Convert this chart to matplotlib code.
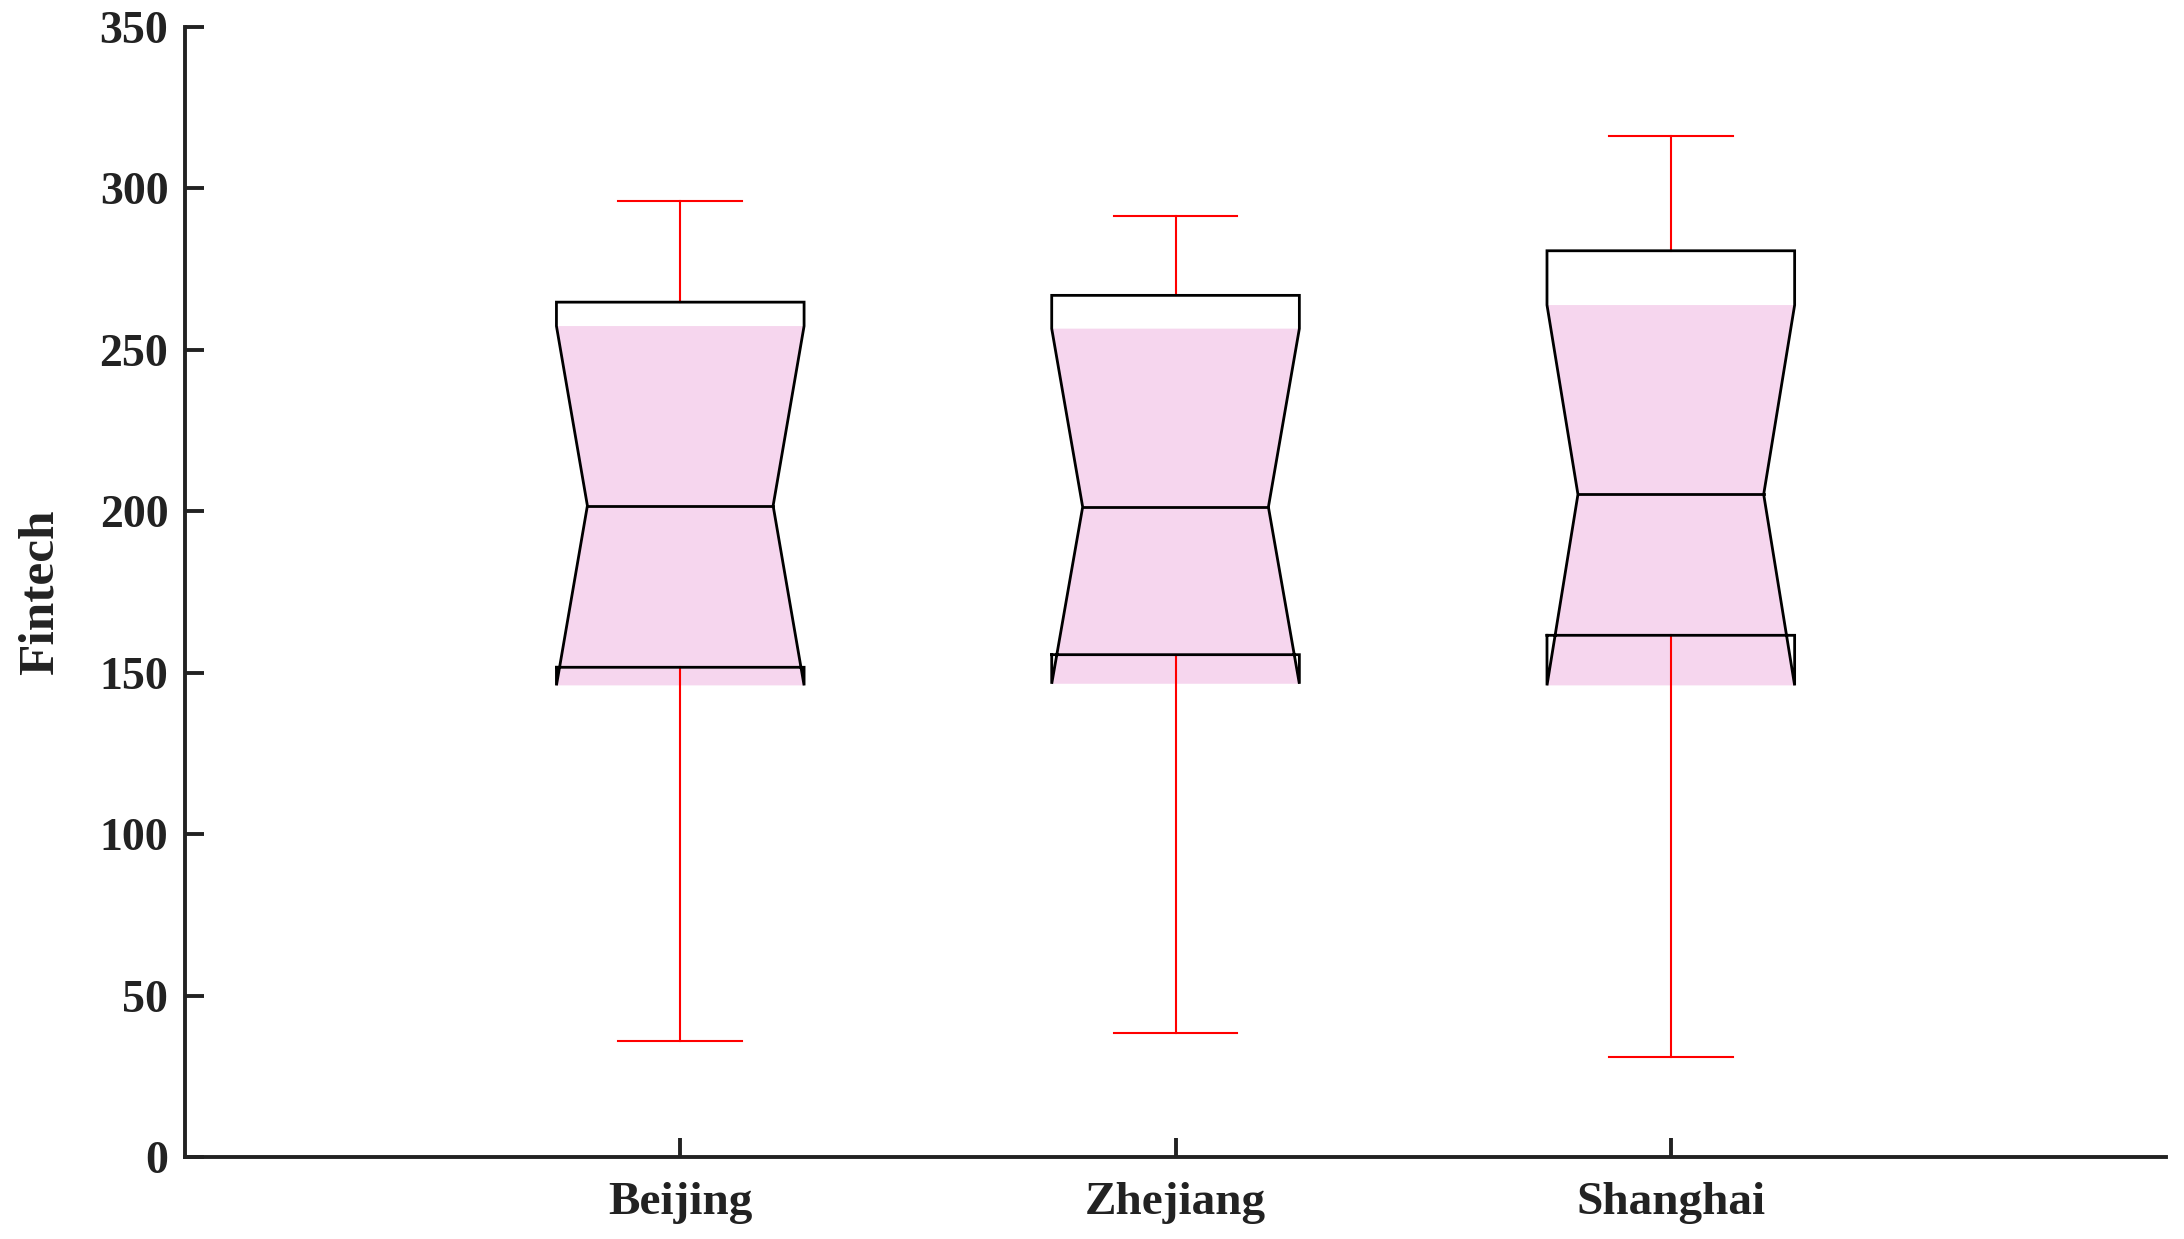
import numpy as np
import matplotlib.pyplot as plt

# values
regions = ['Beijing', 'Zhejiang', 'Shanghai']
whisker_low = [36.2, 38.4, 31.0]
q1 = [151.7, 155.6, 161.6]
median = [201.7, 201.3, 205.2]
q3 = [264.7, 266.8, 280.6]
whisker_high = [296.1, 291.4, 316.0]
notch_low = [146.1, 146.6, 146.1]
notch_high = [257.3, 256.5, 263.8]

box_width = 0.5
waist = 0.75  # notch width at median, relative to box width
cap_width = 0.25
fill_color = '#F6D6EE'
text_color = '#222222'

plt.rcParams['font.family'] = ['Liberation Serif', 'DejaVu Serif']
plt.rcParams['font.weight'] = 'bold'

fig = plt.figure(figsize=(21.84, 12.39), dpi=100)
ax = fig.add_axes([0.0847, 0.0658, 0.9071, 0.9128])

for i in range(len(regions)):
    x = i + 1
    l, r = x - box_width / 2, x + box_width / 2
    nl, nr = x - box_width * waist / 2, x + box_width * waist / 2

    # pink notch fill
    ax.fill([l, r, nr, r, l, nl], [notch_low[i], notch_low[i], median[i],
            notch_high[i], notch_high[i], median[i]],
            color=fill_color, lw=0, zorder=1)

    # whiskers and caps
    ax.plot([x, x], [q3[i], whisker_high[i]], color='red', lw=1.5, zorder=2)
    ax.plot([x, x], [whisker_low[i], q1[i]], color='red', lw=1.5, zorder=2)
    for w in (whisker_low[i], whisker_high[i]):
        ax.plot([x - cap_width / 2, x + cap_width / 2], [w, w],
                color='red', lw=1.5, zorder=2)

    # box outline with notch
    bx = [l, r, r, nr, r, r, l, l, nl, l, l]
    by = [q1[i], q1[i], notch_low[i], median[i], notch_high[i], q3[i],
          q3[i], notch_high[i], median[i], notch_low[i], q1[i]]
    ax.plot(bx, by, color='black', lw=2.0, zorder=3, solid_joinstyle='miter')
    ax.plot([nl, nr], [median[i], median[i]], color='black', lw=2.0, zorder=3)

ax.set_xlim(0, 4)
ax.set_ylim(0, 350)
ax.set_xticks([1, 2, 3])
ax.set_xticklabels(regions, fontsize=34, fontweight='bold', color=text_color)
ax.set_yticks(np.arange(0, 351, 50))
ax.tick_params(direction='in', length=14, width=2.8, color=text_color)
ax.tick_params(axis='y', labelsize=33, labelcolor=text_color, pad=12)
ax.tick_params(axis='x', pad=18)
ax.set_ylabel('Fintech', fontsize=37, fontweight='bold', color=text_color,
              labelpad=26)

for s in ['top', 'right']:
    ax.spines[s].set_visible(False)
for s in ['left', 'bottom']:
    ax.spines[s].set_linewidth(2.8)
    ax.spines[s].set_color(text_color)

fig.savefig('out.png', dpi=100)
